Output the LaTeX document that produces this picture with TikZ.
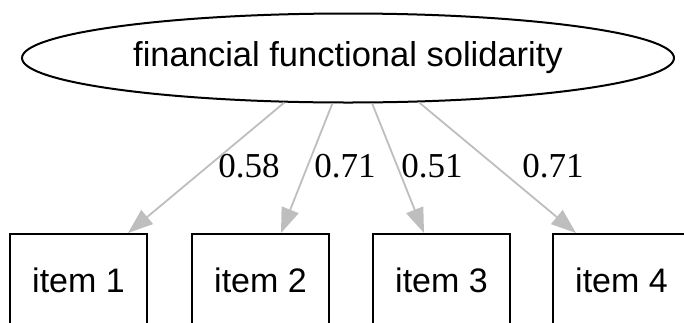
\documentclass[tikz,border=0pt]{standalone}
\usepackage{fontspec}
\setmainfont{Liberation Sans}
\newfontfamily\numfont{Liberation Serif}
\usetikzlibrary{shapes.geometric,arrows.meta,calc}
\definecolor{edgegray}{RGB}{190,190,190}
\begin{document}
\begin{tikzpicture}[x=1pt,y=-1pt,
  latent/.style={draw=black,line width=2pt,ellipse,minimum width=652pt,minimum height=89pt,inner sep=0pt,font=\fontsize{34.5}{40}\selectfont},
  itembox/.style={draw=black,line width=2pt,rectangle,minimum width=137pt,minimum height=92pt,inner sep=0pt,font=\fontsize{34}{40}\selectfont},
  loading/.style={line width=1.8pt,draw=edgegray,-{Triangle[length=25pt,width=18pt,fill=edgegray]}},
  lbl/.style={inner sep=0pt,font=\numfont\fontsize{35}{40}\selectfont}]
\useasboundingbox (0,0) rectangle (684,322);
\node[latent] (fac) at (348,58) {financial functional solidarity};
\node[itembox] (b1) at (78.5,280) {item 1};
\node[itembox] (b2) at (260.5,280) {item 2};
\node[itembox] (b3) at (441.5,280) {item 3};
\node[itembox] (b4) at (621.5,280) {item 4};
\draw[loading] (fac.215.2) -- ([xshift=-20pt]b1.north east);
\draw[loading] (fac.251.2) -- ([xshift=-49pt]b2.north east);
\draw[loading] (fac.298.6) -- ([xshift=52pt]b3.north west);
\draw[loading] (fac.328.4) -- ([xshift=24pt]b4.north west);
\node[lbl] (l1) at (249,166) {0.58};
\node[lbl] (l2) at (345,166) {0.71};
\node[lbl] (l3) at (432,166) {0.51};
\node[lbl] (l4) at (553,166) {0.71};
\end{tikzpicture}
\end{document}
